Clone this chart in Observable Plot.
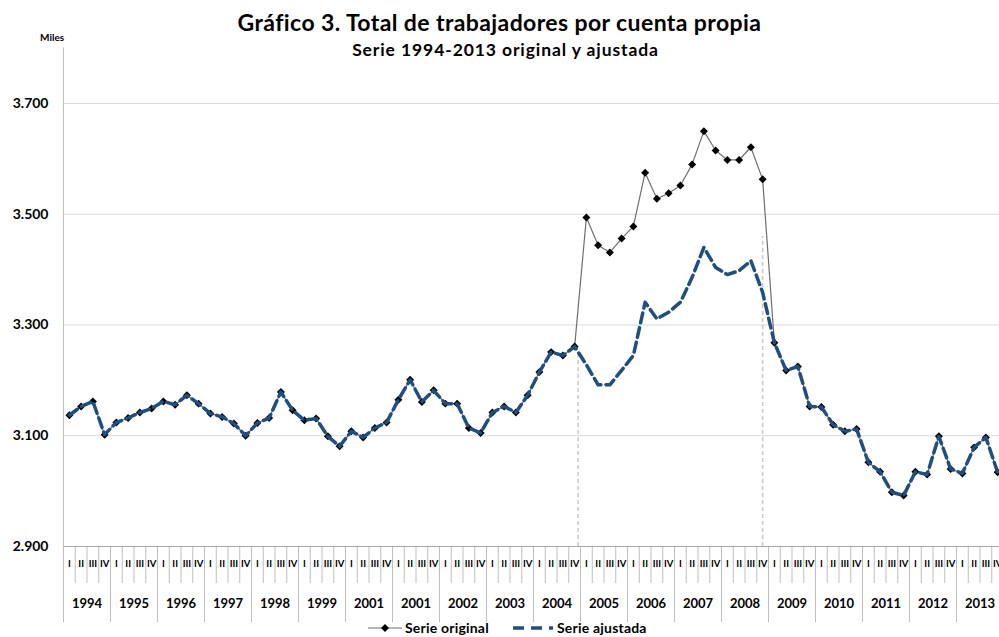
<!DOCTYPE html>
<html>
<head>
<meta charset="utf-8">
<script src="https://cdn.jsdelivr.net/npm/d3@7"></script>
<script src="https://cdn.jsdelivr.net/npm/@observablehq/plot@0.6"></script>
<style>
  html, body { margin: 0; padding: 0; background: #fff; overflow: hidden; }
  body { font-family: Lato, "Open Sans", sans-serif; color: #000; }
  #wrap { position: relative; width: 999px; height: 637px; }
  #header { position: relative; height: 40px; }
  .ttl { position: absolute; left: 0; width: 999px; text-align: center; font-weight: bold; white-space: nowrap; }
  #title { top: 11px; font-size: 23px; line-height: 23px; letter-spacing: 0.4px; }
  #subtitle { top: 41px; left: 6px; font-size: 17.5px; line-height: 17.5px; letter-spacing: 0.9px; }
  #miles { position: absolute; left: 40px; top: 32px; font-size: 10px; line-height: 10px; font-weight: bold; }
  #chart svg { display: block; }
  #legend { position: absolute; left: 0; top: 620px; width: 999px; height: 16px; }
  #legend span { position: absolute; top: 0; font-size: 14px; line-height: 16px; font-weight: bold; white-space: nowrap; letter-spacing: 0.2px; }
</style>
</head>
<body>
<div id="wrap">
  <div id="header">
    <div class="ttl" id="title">Gráfico 3. Total de trabajadores por cuenta propia</div>
    <div class="ttl" id="subtitle">Serie 1994-2013 original y ajustada</div>
    <div id="miles">Miles</div>
  </div>
  <div id="chart"></div>
  <div id="legend">
    <svg width="999" height="16" style="position:absolute;left:0;top:0">
      <line x1="368" y1="8" x2="402" y2="8" stroke="#6f6f6f" stroke-width="1.2"></line>
      <path d="M385,4 L389,8 L385,12 L381,8 Z" fill="#000"></path>
      <line x1="513" y1="8" x2="553" y2="8" stroke="#1F4E80" stroke-width="3.5" stroke-dasharray="11,7"></line>
    </svg>
    <span style="left:405px">Serie original</span>
    <span style="left:557px">Serie ajustada</span>
  </div>
</div>
<script>
// ---- Data ----
const years = ["1994","1995","1996","1997","1998","1999","2001","2001","2002","2003",
               "2004","2005","2006","2007","2008","2009","2010","2011","2012","2013"];
const quarterLabels = ["I","II","III","IV"];

// Serie original (miles), quarterly 1994 I – 2013 IV
const serieOriginal = [
  3137, 3153, 3162, 3102,   // 1994
  3124, 3132, 3142, 3149,   // 1995
  3162, 3156, 3173, 3158,   // 1996
  3140, 3134, 3122, 3100,   // 1997
  3123, 3132, 3179, 3146,   // 1998
  3128, 3131, 3099, 3081,   // 1999
  3108, 3097, 3114, 3124,   // 2000 (rotulado 2001)
  3165, 3201, 3161, 3182,   // 2001
  3158, 3158, 3114, 3105,   // 2002
  3142, 3153, 3142, 3173,   // 2003
  3215, 3251, 3245, 3261,   // 2004
  3494, 3444, 3431, 3456,   // 2005
  3478, 3575, 3528, 3538,   // 2006
  3552, 3590, 3650, 3615,   // 2007
  3598, 3598, 3621, 3563,   // 2008
  3268, 3218, 3225, 3153,   // 2009
  3152, 3120, 3108, 3112,   // 2010
  3052, 3035, 2998, 2992,   // 2011
  3035, 3030, 3099, 3040,   // 2012
  3032, 3079, 3097, 3034    // 2013
];

// Serie ajustada (miles)
const serieAjustada = [
  3137, 3153, 3162, 3102,
  3124, 3132, 3142, 3149,
  3162, 3156, 3173, 3158,
  3140, 3134, 3122, 3100,
  3123, 3132, 3179, 3146,
  3128, 3131, 3099, 3081,
  3108, 3097, 3114, 3124,
  3165, 3201, 3161, 3182,
  3158, 3158, 3114, 3105,
  3142, 3153, 3142, 3173,
  3215, 3251, 3245, 3261,
  3228, 3192, 3192, 3218,
  3245, 3341, 3311, 3323,
  3341, 3386, 3440, 3404,
  3391, 3398, 3416, 3359,
  3268, 3218, 3225, 3153,
  3152, 3120, 3108, 3112,
  3052, 3035, 2998, 2992,
  3035, 3030, 3099, 3040,
  3032, 3079, 3097, 3034
];

const yTicks = [2900, 3100, 3300, 3500, 3700];
const yDomain = [2900, 3800];

// Dashed reference lines (position in quarter index, top value)
const refLineX = [43.3, 59];
const refLineTop = [3250, 3460];

// ---- Derived tables ----
const data = serieOriginal.map((v, i) => ({ i, orig: v, adj: serieAjustada[i] }));
const quarterCenters = serieOriginal.map((_, i) => i);
const quarterBounds = serieOriginal.map((_, i) => i - 0.5);
const yearBounds = years.map((_, k) => 4 * k - 0.5);
const yearCenters = years.map((_, k) => 4 * k + 1.5);
const refLines = refLineX.map((x, k) => ({ x, lo: yDomain[0], hi: refLineTop[k] }));

const chart = Plot.plot({
  width: 999,
  height: 585,
  marginLeft: 63,
  marginRight: -4,
  marginTop: 7.6,
  marginBottom: 79,
  style: { fontFamily: "Lato, 'Open Sans', sans-serif", background: "white", color: "#000" },
  x: { type: "linear", domain: [-0.5, serieOriginal.length - 0.5] },
  y: { domain: yDomain },
  marks: [
    Plot.gridY(yTicks, { stroke: "#d9d9d9", strokeOpacity: 1 }),
    Plot.ruleX(refLines, { x: "x", y1: "lo", y2: "hi", stroke: "#c8c8c8", strokeWidth: 1.5, strokeDasharray: "4,3" }),
    Plot.line(data, { x: "i", y: "orig", stroke: "#6f6f6f", strokeWidth: 1.2 }),
    Plot.dot(data, { x: "i", y: "orig", symbol: "diamond2", fill: "#000", stroke: "none", r: 3.6 }),
    Plot.line(data, { x: "i", y: "adj", stroke: "#1F4E80", strokeWidth: 3.5, strokeDasharray: "10,5" }),
    Plot.frame({ anchor: "left", stroke: "#bfbfbf" }),
    Plot.axisY(yTicks, { tickSize: 0, tickPadding: 15, tickFormat: d => (d / 1000).toFixed(3), fontSize: 14, fontWeight: "bold", label: null }),
    Plot.axisX(quarterBounds, { tickSize: 37, tickFormat: () => "", stroke: "#bfbfbf", label: null }),
    Plot.axisX(yearBounds, { tickSize: 76, tickFormat: () => "", stroke: "#bfbfbf", label: null }),
    Plot.axisX(quarterCenters, { tickSize: 0, tickPadding: 13.5, tickFormat: i => quarterLabels[i % 4], fontSize: 9.5, fontWeight: "bold", label: null }),
    Plot.axisX(yearCenters, { tickSize: 0, tickPadding: 52, tickFormat: v => years[(v - 1.5) / 4], fontSize: 13, fontWeight: "bold", label: null }),
    Plot.ruleY([yDomain[0]], { stroke: "#a6a6a6" })
  ]
});
document.getElementById("chart").appendChild(chart);
</script>
</body>
</html>
